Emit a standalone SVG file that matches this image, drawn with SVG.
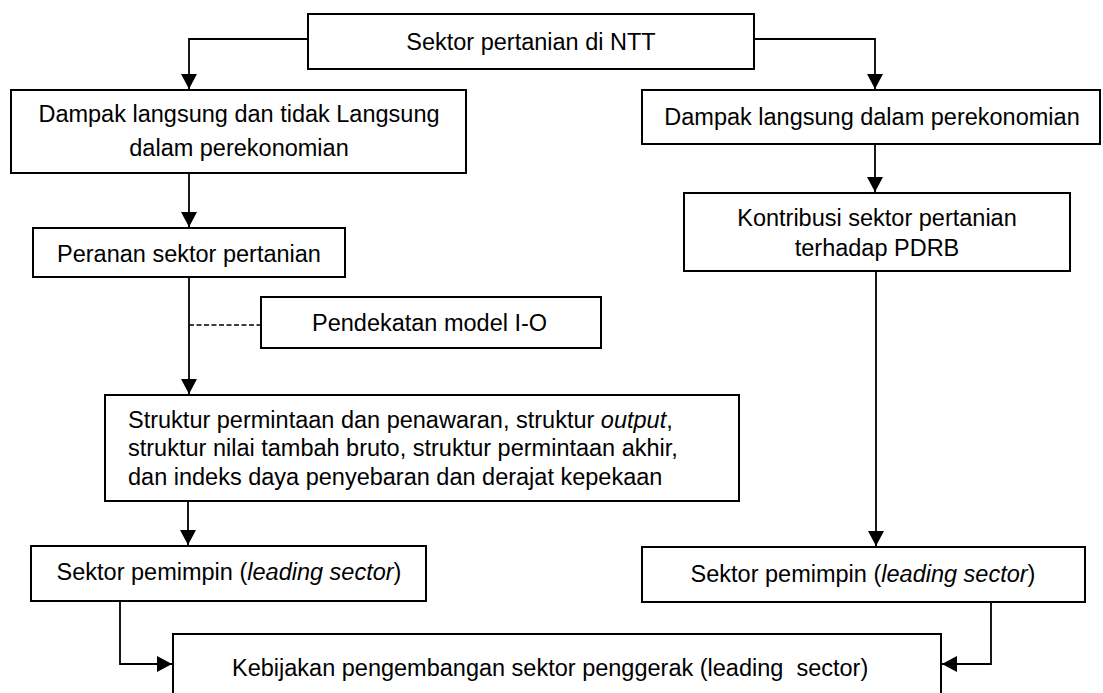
<svg xmlns="http://www.w3.org/2000/svg" width="1103" height="693" viewBox="0 0 1103 693">
<style>
.box{fill:#fff;stroke:#000;stroke-width:2}
.t{font-family:"Liberation Sans",Arial,sans-serif;font-size:23.5px;fill:#000}
.c{text-anchor:middle}
.ln{fill:none;stroke:#000;stroke-width:1.8}
.dash{fill:none;stroke:#000;stroke-width:1.5;stroke-dasharray:5,2.5}
</style>
<defs>
<marker id="ah" markerUnits="userSpaceOnUse" markerWidth="16" markerHeight="16" refX="15" refY="8" orient="auto">
<path d="M0,0 L15,8 L0,16 z" fill="#000"/>
</marker>
</defs>
<g id="connectors">
<path class="ln" d="M308,39 H189 V89" marker-end="url(#ah)"/>
<path class="ln" d="M754,39 H875 V89" marker-end="url(#ah)"/>
<path class="ln" d="M189,173 V227" marker-end="url(#ah)"/>
<path class="ln" d="M189,277 V394" marker-end="url(#ah)"/>
<path class="dash" d="M189,325 H261"/>
<path class="ln" d="M188,501 V545" marker-end="url(#ah)"/>
<path class="ln" d="M875,144 V192" marker-end="url(#ah)"/>
<path class="ln" d="M876,271 V546" marker-end="url(#ah)"/>
<path class="ln" d="M120,601 V664 H172" marker-end="url(#ah)"/>
<path class="ln" d="M991,602 V664 H942" marker-end="url(#ah)"/>
</g>
<g id="n-sektor-ntt">
<rect class="box" x="308" y="14" width="446" height="55"/>
<text class="t c" x="531" y="50">Sektor pertanian di NTT</text>
</g>
<g id="n-dampak-tidak">
<rect class="box" x="11" y="90" width="455" height="83"/>
<text class="t c" x="239" y="122">Dampak langsung dan tidak Langsung</text>
<text class="t c" x="239" y="156">dalam perekonomian</text>
</g>
<g id="n-dampak-langsung">
<rect class="box" x="642" y="90" width="458" height="54"/>
<text class="t c" x="872" y="125">Dampak langsung dalam perekonomian</text>
</g>
<g id="n-kontribusi">
<rect class="box" x="684" y="193" width="386" height="78"/>
<text class="t c" x="877" y="226">Kontribusi sektor pertanian</text>
<text class="t c" x="877" y="256">terhadap PDRB</text>
</g>
<g id="n-peranan">
<rect class="box" x="33" y="228" width="312" height="49"/>
<text class="t c" x="189" y="262">Peranan sektor pertanian</text>
</g>
<g id="n-pendekatan">
<rect class="box" x="261" y="297" width="340" height="51"/>
<text class="t" x="312" y="331">Pendekatan model I-O</text>
</g>
<g id="n-struktur">
<rect class="box" x="105" y="395" width="634" height="106"/>
<text class="t" x="128" y="428">Struktur permintaan dan penawaran, struktur <tspan font-style="italic">output</tspan>,</text>
<text class="t" x="128" y="456">struktur nilai tambah bruto, struktur permintaan akhir,</text>
<text class="t" x="128" y="485">dan indeks daya penyebaran dan derajat kepekaan</text>
</g>
<g id="n-pemimpin-kiri">
<rect class="box" x="31" y="546" width="395" height="55"/>
<text class="t c" x="229" y="580">Sektor pemimpin (<tspan font-style="italic">leading sector</tspan>)</text>
</g>
<g id="n-pemimpin-kanan">
<rect class="box" x="642" y="547" width="443" height="55"/>
<text class="t c" x="863" y="582">Sektor pemimpin (<tspan font-style="italic">leading sector</tspan>)</text>
</g>
<g id="n-kebijakan">
<rect class="box" x="173" y="634" width="768" height="70"/>
<text class="t" x="232" y="676" xml:space="preserve">Kebijakan pengembangan sektor penggerak (leading  sector)</text>
</g>
</svg>
